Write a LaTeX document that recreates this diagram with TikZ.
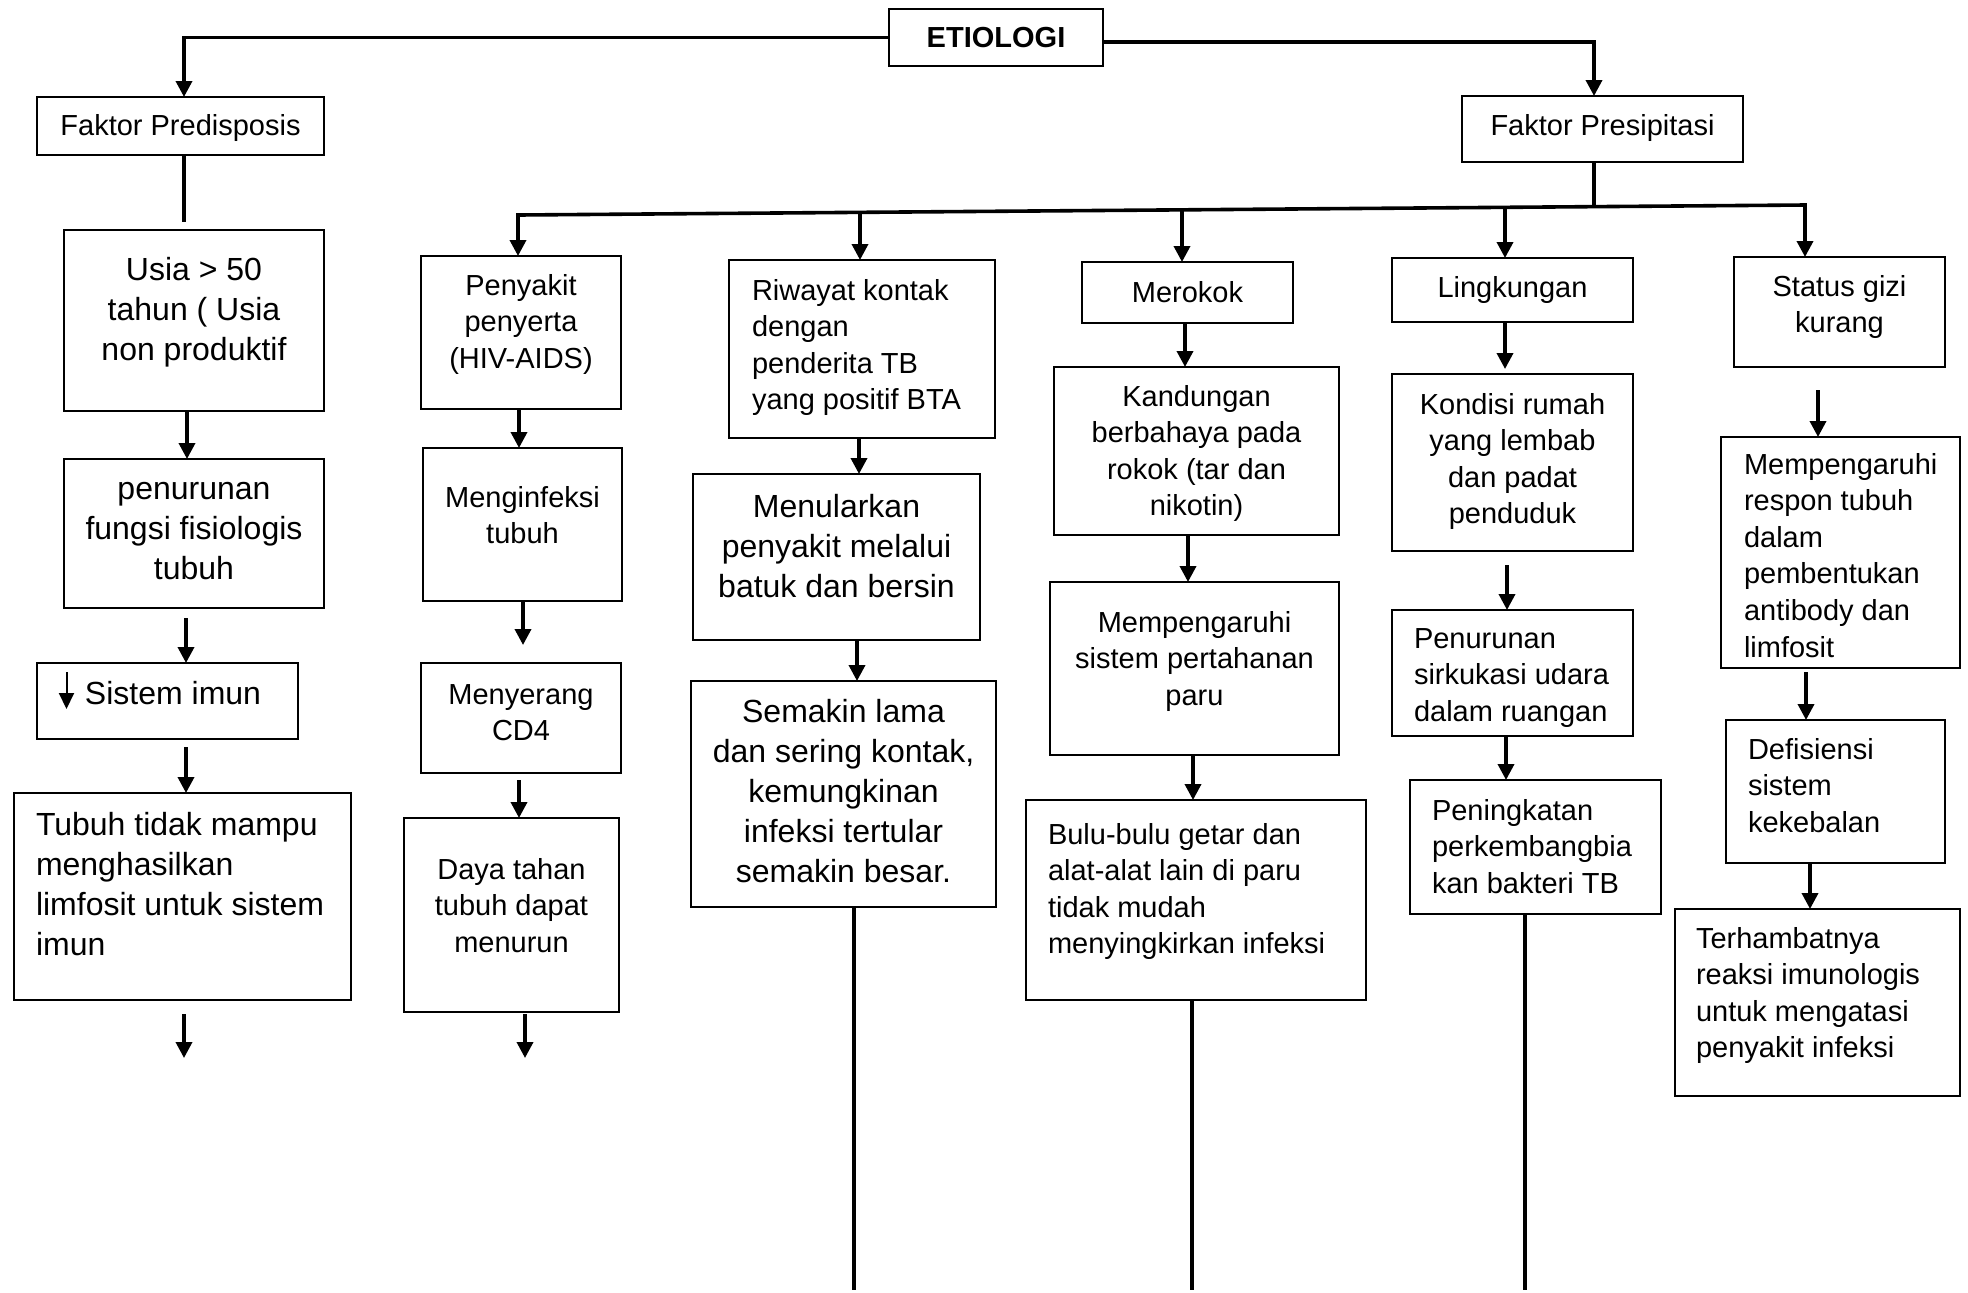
\documentclass[tikz,border=0pt]{standalone}
\usepackage{fontspec}
\setmainfont{Liberation Sans}
\usetikzlibrary{arrows.meta,calc}
\newcommand\fs{\fontsize{14.5pt}{18.3pt}\selectfont}
\newcommand\fl{\fontsize{16pt}{20pt}\selectfont}
\newcommand\lpad[1]{\raggedright\leftskip=#1pt\relax}
\newcommand\downarr{\tikz[baseline=0pt]\draw[line width=1pt,-{Triangle[width=7.5pt,length=8pt]}] (0pt,16pt) -- (0pt,-2.5pt);}
% name, x1, y1, x2, y2, font, align, first baseline (pt), text
\newcommand\bx[9]{%
  \pgfmathsetmacro\bxw{(#4-#2)/2}%
  \pgfmathsetmacro\bxh{(#5-#3)/2}%
  \node[boxst, anchor=north west] (#1) at (#2,#3)
    {\parbox[c][\bxh pt][t]{\bxw pt}{#6#7\rule{0pt}{#8pt}#9}};%
}
\begin{document}
\begin{tikzpicture}[x=0.5pt,y=-0.5pt,
  boxst/.style={draw, line width=1pt, inner sep=0pt, outer sep=0pt},
  ln/.style={line width=1.8pt},
  arr/.style={ln, -{Triangle[width=8pt,length=8pt]}},
  arrb/.style={ln, {Triangle[width=8pt,length=8pt]}-{Triangle[width=8pt,length=8pt]}}]
\useasboundingbox (0,0) rectangle (1968,1292);

% boxes
\bx{etio}{889}{9}{1103}{66}{\fs\bfseries}{\centering}{19}{ETIOLOGI}
\bx{fpred}{37}{97}{324}{155}{\fs}{\centering}{19}{Faktor Predisposis}
\bx{fpres}{1462}{96}{1743}{162}{\fs}{\centering}{19.5}{Faktor Presipitasi}

\bx{usia}{64}{230}{324}{411}{\fl}{\centering}{25}{Usia > 50\\tahun ( Usia\\non produktif}
\bx{pen1}{64}{459}{324}{608}{\fl}{\centering}{20}{penurunan\\fungsi fisiologis\\tubuh}
\bx{sis}{37}{663}{298}{739}{\fl}{\lpad{11}}{20.5}{\downarr\hspace{5.5pt}Sistem imun}
\bx{tub}{14}{793}{351}{1000}{\fl}{\lpad{11}}{21}{Tubuh tidak mampu\\menghasilkan\\limfosit untuk sistem\\imun}

\bx{peny}{421}{256}{621}{409}{\fs}{\centering}{19.5}{Penyakit\\penyerta\\(HIV-AIDS)}
\bx{meng}{423}{448}{622}{601}{\fs}{\centering}{29.5}{Menginfeksi\\tubuh}
\bx{menye}{421}{663}{621}{773}{\fs}{\centering}{20.5}{Menyerang\\CD4}
\bx{daya}{404}{818}{619}{1012}{\fs}{\centering}{30.5}{Daya tahan\\tubuh dapat\\menurun}

\bx{riw}{729}{260}{995}{438}{\fs}{\lpad{11.5}}{20}{Riwayat kontak\\dengan\\penderita TB\\yang positif BTA}
\bx{menul}{693}{474}{980}{640}{\fl}{\centering}{21.5}{Menularkan\\penyakit melalui\\batuk dan bersin}
\bx{semak}{691}{681}{996}{907}{\fl}{\centering}{20.5}{Semakin lama\\dan sering kontak,\\kemungkinan\\infeksi tertular\\semakin besar.}

\bx{mer}{1082}{262}{1293}{323}{\fs}{\centering}{20}{Merokok}
\bx{kand}{1054}{367}{1339}{535}{\fs}{\centering}{19.5}{Kandungan\\berbahaya pada\\rokok (tar dan\\nikotin)}
\bx{memp}{1050}{582}{1339}{755}{\fs}{\centering}{25}{Mempengaruhi\\sistem pertahanan\\paru}
\bx{bulu}{1026}{800}{1366}{1000}{\fs}{\lpad{11}}{22}{Bulu-bulu getar dan\\alat-alat lain di paru\\tidak mudah\\menyingkirkan infeksi}

\bx{ling}{1392}{258}{1633}{322}{\fs}{\centering}{19.5}{Lingkungan}
\bx{kond}{1392}{374}{1633}{551}{\fs}{\centering}{20}{Kondisi rumah\\yang lembab\\dan padat\\penduduk}
\bx{penur}{1392}{610}{1633}{736}{\fs}{\lpad{11}}{19}{Penurunan\\sirkukasi udara\\dalam ruangan}
\bx{pening}{1410}{780}{1661}{914}{\fs}{\lpad{11}}{20}{Peningkatan\\perkembangbia\\kan bakteri TB}

\bx{stat}{1734}{257}{1945}{367}{\fs}{\centering}{19.5}{Status gizi\\kurang}
\bx{resp}{1721}{437}{1960}{668}{\fs}{\lpad{11.5}}{18.5}{Mempengaruhi\\respon tubuh\\dalam\\pembentukan\\antibody dan\\limfosit}
\bx{def}{1726}{720}{1945}{863}{\fs}{\lpad{11}}{19.5}{Defisiensi\\sistem\\kekebalan}
\bx{terh}{1675}{909}{1960}{1096}{\fs}{\lpad{10.5}}{19.5}{Terhambatnya\\reaksi imunologis\\untuk mengatasi\\penyakit infeksi}

% top level connectors
\draw[arr] (etio.west) -| (fpred.north -| 184,0);
\draw[arr] (etio.east |- 0,42) -| (fpres.north -| 1594,0);
\draw[ln, shorten >=4pt] (fpred.south -| 184,0) -- (usia.north -| 184,0);

% sub line of Faktor Presipitasi
\coordinate (subL) at (518,215);
\coordinate (subR) at (1805,205);
\draw[arrb] (peny.north -| subL) -- (subL) -- (subR) -- (stat.north -| subR);
\draw[ln] (fpres.south -| 1594,0) -- ($(subL)!0.836!(subR)$);
\draw[arr] ($(subL)!0.2657!(subR)$) -- (riw.north -| 860,0);
\draw[arr] ($(subL)!0.5159!(subR)$) -- (mer.north -| 1182,0);
\draw[arr] ($(subL)!0.7669!(subR)$) -- (ling.north -| 1505,0);

% column 1
\draw[arr] (usia.south -| 187,0) -- (pen1.north -| 187,0);
\draw[arr, shorten <=5pt] (pen1.south -| 186,0) -- (sis.north -| 186,0);
\draw[arr, shorten <=4pt] (sis.south -| 186,0) -- (tub.north -| 186,0);
\coordinate (e1) at (184,1058);
\draw[arr, shorten <=7pt] (tub.south -| e1) -- (e1);

% column 2
\draw[arr] (peny.south -| 519,0) -- (meng.north -| 519,0);
\draw[arr, shorten >=9pt] (meng.south -| 523,0) -- (menye.north -| 523,0);
\draw[arr, shorten <=3.5pt] (menye.south -| 519,0) -- (daya.north -| 519,0);
\coordinate (e2) at (525,1058);
\draw[arr, shorten <=1pt] (daya.south -| e2) -- (e2);

% column 3
\draw[arr] (riw.south -| 859,0) -- (menul.north -| 859,0);
\draw[arr] (menul.south -| 857,0) -- (semak.north -| 857,0);
\coordinate (e3) at (854,1290);
\draw[ln] (semak.south -| e3) -- (e3);

% column 4
\draw[arr] (mer.south -| 1185,0) -- (kand.north -| 1185,0);
\draw[arr] (kand.south -| 1188,0) -- (memp.north -| 1188,0);
\draw[arr] (memp.south -| 1193,0) -- (bulu.north -| 1193,0);
\coordinate (e4) at (1192,1290);
\draw[ln] (bulu.south -| e4) -- (e4);

% column 5
\draw[arr, shorten >=2.5pt] (ling.south -| 1505,0) -- (kond.north -| 1505,0);
\draw[arr, shorten <=7pt] (kond.south -| 1507,0) -- (penur.north -| 1507,0);
\draw[arr] (penur.south -| 1506,0) -- (pening.north -| 1506,0);
\coordinate (e5) at (1525,1290);
\draw[ln] (pening.south -| e5) -- (e5);

% column 6
\draw[arr, shorten <=11.5pt] (stat.south -| 1818,0) -- (resp.north -| 1818,0);
\draw[arr, shorten <=2pt] (resp.south -| 1806,0) -- (def.north -| 1806,0);
\draw[arr] (def.south -| 1810,0) -- (terh.north -| 1810,0);
\end{tikzpicture}
\end{document}
